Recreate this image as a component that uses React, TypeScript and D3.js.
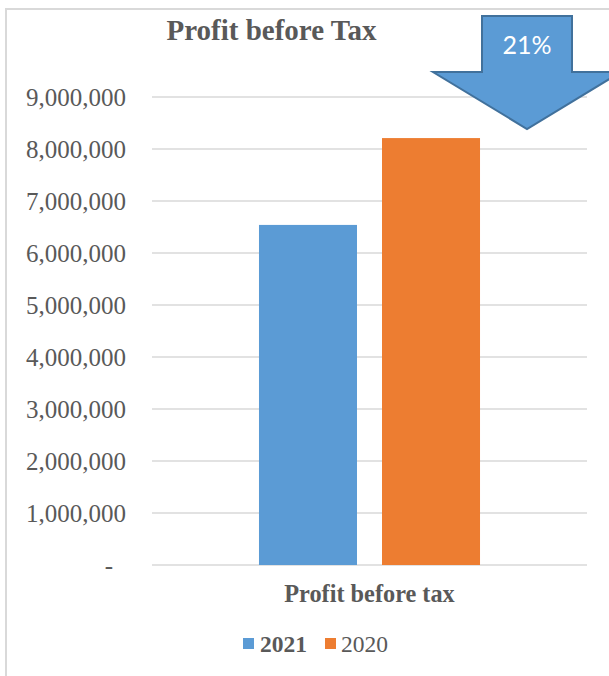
import React from "react";
import * as d3 from "d3";

const categories = ["Profit before tax"];
const seriesNames = ["2021", "2020"];
const seriesValues = [6540000, 8210000];
const seriesColors = ["#5B9BD5", "#ED7D31"];
const yTicks = [0, 1000000, 2000000, 3000000, 4000000, 5000000, 6000000, 7000000, 8000000, 9000000];
const changeLabel = "21%";

const W = 609;
const H = 676;
const plot = { left: 152, right: 587, top: 97, bottom: 565 };
const textColor = "#595959";
const gridColor = "#D9D9D9";
const serif = "'Liberation Serif', 'Times New Roman', serif";

export default function App() {
  const y = d3.scaleLinear().domain([0, 9000000]).range([plot.bottom, plot.top]);
  const x0 = d3
    .scaleBand<string>()
    .domain(categories)
    .range([plot.left, plot.right])
    .paddingInner(0)
    .paddingOuter(0.484);
  const x1 = d3
    .scaleBand<string>()
    .domain(seriesNames)
    .range([0, x0.bandwidth()])
    .paddingInner(0.2033)
    .paddingOuter(0);
  const fmt = d3.format(",");
  const arrowCx = 527;
  const arrow = [
    [482, 16],
    [572, 16],
    [572, 72],
    [621, 72],
    [arrowCx, 129],
    [433, 72],
    [482, 72],
  ];
  const arrowPath = d3.line()(arrow as [number, number][]) + "Z";

  return (
    <svg
      width={W}
      height={H}
      style={{ position: "absolute", left: 0, top: 0, background: "#fff" }}
    >
      <rect x={6} y={9} width={W + 10} height={H + 10} fill="#fff" stroke={gridColor} strokeWidth={2} />
      {yTicks.map((t) => (
        <g key={t}>
          <line x1={plot.left} x2={plot.right} y1={y(t)} y2={y(t)} stroke={gridColor} strokeWidth={1.5} />
          <text
            x={t === 0 ? 113 : 126}
            y={y(t)}
            dy="0.35em"
            textAnchor="end"
            fontFamily={serif}
            fontSize={25}
            fill={textColor}
          >
            {t === 0 ? "-" : fmt(t)}
          </text>
        </g>
      ))}
      {categories.map((c) =>
        seriesNames.map((s, i) => {
          const v = seriesValues[i];
          return (
            <rect
              key={c + s}
              x={(x0(c) ?? 0) + (x1(s) ?? 0)}
              y={y(v)}
              width={x1.bandwidth()}
              height={y(0) - y(v)}
              fill={seriesColors[i]}
            />
          );
        })
      )}
      {categories.map((c) => (
        <text
          key={c}
          x={(x0(c) ?? 0) + x0.bandwidth() / 2}
          y={602}
          textAnchor="middle"
          fontFamily={serif}
          fontWeight="bold"
          fontSize={24.3}
          fill={textColor}
        >
          {c}
        </text>
      ))}
      <text
        x={271.5}
        y={40}
        textAnchor="middle"
        fontFamily={serif}
        fontWeight="bold"
        fontSize={29}
        fill={textColor}
      >
        Profit before Tax
      </text>
      <g>
        <rect x={243} y={638} width={11} height={11} fill={seriesColors[0]} />
        <text x={260} y={652} fontFamily={serif} fontWeight="bold" fontSize={23.5} fill={textColor}>
          {seriesNames[0]}
        </text>
        <rect x={325} y={638} width={11} height={11} fill={seriesColors[1]} />
        <text x={341} y={652} fontFamily={serif} fontSize={23.5} fill={textColor}>
          {seriesNames[1]}
        </text>
      </g>
      <path d={arrowPath} fill="#5B9BD5" stroke="#41719C" strokeWidth={2} strokeLinejoin="miter" />
      <text
        x={arrowCx}
        y={54}
        textAnchor="middle"
        fontFamily="Lato, 'Noto Sans', sans-serif"
        fontSize={25}
        fill="#fff"
      >
        {changeLabel}
      </text>
    </svg>
  );
}
